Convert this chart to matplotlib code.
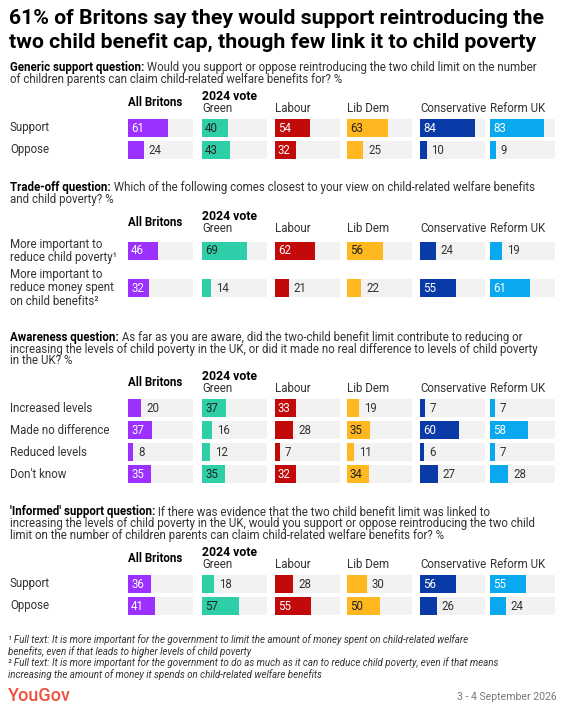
import matplotlib.pyplot as plt

plt.rcParams["font.family"] = ["Roboto", "DejaVu Sans"]

parties = ["All Britons", "Green", "Labour", "Lib Dem", "Conservative", "Reform UK"]
colors = ["#9b30ff", "#2ecfa8", "#c20a0a", "#ffb81f", "#0a3aa8", "#0aa8ee"]
text_on = ["white", "#222222", "white", "#222222", "white", "white"]

s1_rows = ["Support", "Oppose"]
s1_vals = [[61, 40, 54, 63, 84, 83], [24, 43, 32, 25, 10, 9]]
s2_rows = ["More important to\nreduce child poverty\u00b9", "More important to\nreduce money spent\non child benefits\u00b2"]
s2_vals = [[46, 69, 62, 56, 24, 19], [32, 14, 21, 22, 55, 61]]
s3_rows = ["Increased levels", "Made no difference", "Reduced levels", "Don't know"]
s3_vals = [[20, 37, 33, 19, 7, 7], [37, 16, 28, 35, 60, 58], [8, 12, 7, 11, 6, 7], [35, 35, 32, 34, 27, 28]]
s4_rows = ["Support", "Oppose"]
s4_vals = [[36, 18, 28, 30, 56, 55], [41, 57, 55, 50, 26, 24]]

sections = [
    ("Generic support question:", " Would you support or oppose reintroducing the two child limit on the number\nof children parents can claim child-related welfare benefits for? %", 68, 102, [128, 150], s1_rows, s1_vals),
    ("Trade-off question:", " Which of the following comes closest to your view on child-related welfare benefits\nand child poverty? %", 187, 222, [251, 288], s2_rows, s2_vals),
    ("Awareness question:", " As far as you are aware, did the two-child benefit limit contribute to reducing or\nincreasing the levels of child poverty in the UK, or did it made no real difference to levels of child poverty\nin the UK? %", 337, 382, [408, 430, 452, 474], s3_rows, s3_vals),
    ("'Informed' support question:", " If there was evidence that the two child benefit limit was linked to\nincreasing the levels of child poverty in the UK, would you support or oppose reintroducing the two child\nlimit on the number of children parents can claim child-related welfare benefits for? %", 512, 558, [584, 606], s4_rows, s4_vals),
]

col_x = [128, 202, 275, 347, 420, 490]
col_w = 65
bar_h = 18
fs = 8.3

fig = plt.figure(figsize=(5.67, 7.08), dpi=100)
ax = fig.add_axes([0, 0, 1, 1])
ax.set_xlim(0, 567)
ax.set_ylim(708, 0)
ax.axis("off")

ax.text(9, 18, "61% of Britons say they would support reintroducing the", fontsize=15.3, fontweight="bold", va="center")
ax.text(9, 42, "two child benefit cap, though few link it to child poverty", fontsize=15.3, fontweight="bold", va="center")

for bold, rest, ty, hy, rows_y, rows, vals in sections:
    t = ax.text(10, ty, bold, fontsize=fs, fontweight="bold", va="center")
    fig.canvas.draw()
    bb = t.get_window_extent()
    lines = rest.split("\n")
    ax.text(10 + bb.width, ty, lines[0], fontsize=fs, va="center", color="#333333")
    for k, ln in enumerate(lines[1:]):
        ax.text(10, ty + 12 * (k + 1), ln, fontsize=fs, va="center", color="#333333")
    ax.text(col_x[0], hy, parties[0], fontsize=fs, fontweight="bold", va="center")
    ax.text(col_x[1], hy - 6, "2024 vote", fontsize=8.8, fontweight="bold", va="center")
    for j in range(1, 6):
        ax.text(col_x[j], hy + 6, parties[j], fontsize=fs, va="center", color="#333333")
    for y, lab, row in zip(rows_y, rows, vals):
        ax.text(10, y, lab, fontsize=fs, va="center", color="#333333", linespacing=1.02)
        for j, v in enumerate(row):
            ax.barh(y, col_w, left=col_x[j], height=bar_h, color="#f2f2f2")
            w = v / 100 * col_w
            ax.barh(y, w, left=col_x[j], height=bar_h, color=colors[j])
            if v > 30:
                ax.text(col_x[j] + 3, y, str(v), fontsize=fs, va="center", color=text_on[j])
            else:
                ax.text(col_x[j] + w + 5, y, str(v), fontsize=fs, va="center", color="#333333")

foot = ("\u00b9 Full text: It is more important for the government to limit the amount of money spent on child-related welfare\n"
        "benefits, even if that leads to higher levels of child poverty\n"
        "\u00b2 Full text: It is more important for the government to do as much as it can to reduce child poverty, even if that means\n"
        "increasing the amount of money it spends on child-related welfare benefits")
ax.text(8, 634, foot, fontsize=7.0, style="italic", va="top", color="#333333", linespacing=1.1)
ax.text(8, 696, "YouGov", fontsize=13, color="#f0513e", va="center", fontweight="medium")
ax.text(557, 697, "3 - 4 September 2026", fontsize=7.6, color="#777777", va="center", ha="right")

fig.savefig("out.png", dpi=100)
